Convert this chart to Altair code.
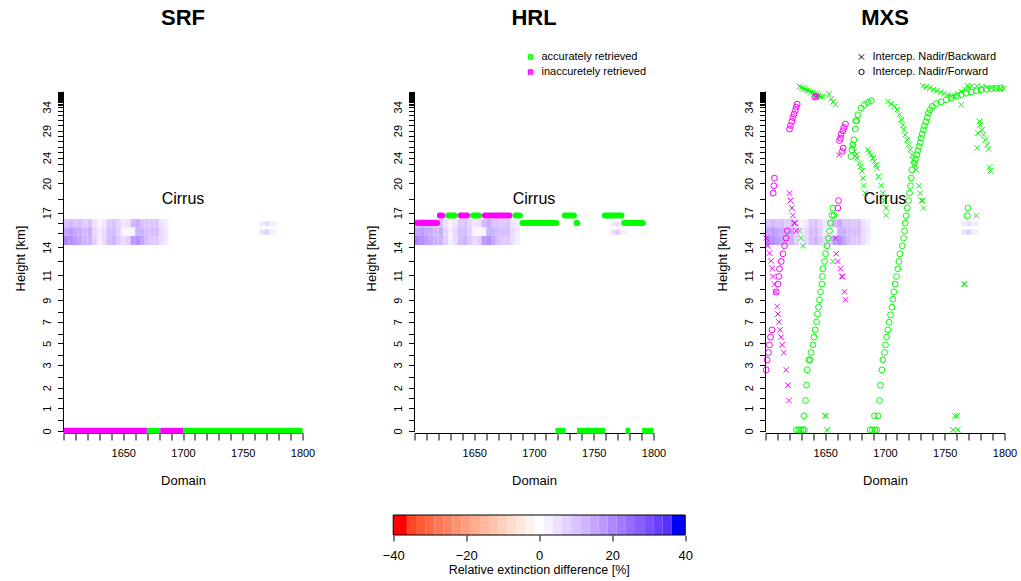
import altair as alt
import pandas as pd

FONT = "Liberation Sans"
GREEN = "#00FF00"
MAGENTA = "#FF00FF"
X_SHAPE = "M-1,-1L1,1M1,-1L-1,1"

# ---------------- axis content ----------------
x_ticks = [1600, 1610, 1620, 1630, 1640, 1650, 1660, 1670, 1680, 1690, 1700,
           1710, 1720, 1730, 1740, 1750, 1760, 1770, 1780, 1790, 1800]
x_labels = [1650, 1700, 1750, 1800]
y_label_pos = [0, 2.1, 4.0, 6.1, 8.1, 10.1, 12.1, 14.4, 17.0, 20.2, 22.9, 25.3, 27.8, 30.0]
y_label_txt = ["0", "1", "2", "3", "5", "7", "9", "11", "14", "17", "20", "24", "29", "34"]
y_minor = [1.0, 3.0, 5.0, 7.0, 9.0, 11.0, 13.1, 15.7, 18.3, 19.2, 21.5, 24.1, 24.7, 25.8, 26.3,
           26.8, 27.3, 28.3, 28.8, 29.2, 29.6, 30.2, 30.3, 30.4, 30.5, 30.6, 30.7, 30.8, 30.9,
           31.0, 31.1, 31.2, 31.3, 31.4]
y_axis_top = 31.4

XDOM = [1600, 1800]
YDOM = [-0.2, 32.2]
PW, PH = 239, 350

# ---------------- cirrus extinction difference field (%) ----------------
cirrus_x0 = [1600, 1604, 1608, 1612, 1616, 1620, 1624, 1628, 1632, 1636, 1640,
             1644, 1648, 1652, 1656, 1660, 1664, 1668, 1672, 1676, 1680, 1684]
cirrus_top = [10, 12, 10, 11, 8, 10, 5, 2, 4, 9, 10, 7, 4, 5, 12, 14, 10, 10, 9, 10, 5, 3]
cirrus_mid = [15, 17, 15, 14, 12, 14, 7, 3, 6, 11, 11, 8, 2, 1, 2, 13, 13, 11, 11, 11, 6, 4]
cirrus_bot = [21, 19, 17, 15, 13, 13, 8, 3, 6, 11, 13, 9, 6, 8, 17, 19, 15, 11, 9, 9, 6, 3]
patch_x0 = [1764, 1768, 1772]
patch_top = [4, 6, 3]
patch_mid = [5, 8, 3]
row_edges = [17.2, 18.05, 18.85, 19.6]

# ---------------- SRF / HRL retrieval flags ----------------
srf_seg = [("m", 1600, 1669.8), ("g", 1669.8, 1681), ("m", 1681, 1700), ("g", 1700, 1800)]
hrl_upper = [("m", 1621.2, 1623.2), ("g", 1628.2, 1633.5), ("m", 1638.5, 1644.1),
             ("g", 1649.1, 1653.9), ("m", 1658.9, 1679.5), ("g", 1684.5, 1688.2),
             ("g", 1725.8, 1733.4), ("g", 1759.3, 1773.2)]
hrl_lower = [("m", 1602.5, 1619.0), ("g", 1690.4, 1718.5), ("g", 1735.5, 1736.2),
             ("g", 1775.5, 1791.1)]
hrl_ground = [("g", 1718, 1726.5), ("g", 1736, 1759.6), ("g", 1776.6, 1780.5), ("g", 1790.5, 1800)]
level_upper, level_lower = 19.94, 19.23

# ---------------- MXS interception points ----------------
mag_fwd_x = [1600.6, 1601.4, 1602.5, 1603.3, 1604.2, 1605.4,
             1609.0, 1610.4, 1611.2, 1611.7, 1613.1, 1614.6, 1615.9, 1617.3, 1618.2,
             1606.4, 1607.0, 1607.5,
             1620.1, 1620.9, 1622.1, 1622.9, 1623.8, 1624.9, 1625.7, 1626.5,
             1641.2, 1642.6,
             1661.9, 1662.8, 1663.3, 1664.8, 1665.6, 1666.9, 1665.0, 1664.2,
             1660.6, 1661.1]
mag_fwd_y = [5.65, 6.57, 7.25, 7.96, 8.68, 9.35,
             12.87, 13.58, 14.29, 15.0, 15.68, 16.39, 17.13, 17.84, 18.52,
             22.01, 22.69, 23.4,
             27.94, 28.27, 28.64, 29.01, 29.32, 29.66, 29.97, 30.25,
             30.9, 30.95,
             26.88, 27.1, 27.47, 27.78, 28.08, 28.4, 26.18, 25.86,
             20.62, 21.32]
mag_bwd_x = [1600.6, 1602.0, 1603.3, 1604.8, 1605.6, 1606.2, 1607.5, 1608.4, 1609.8, 1610.4,
             1611.2, 1612.3, 1613.1, 1614.0, 1615.4, 1617.3, 1618.7, 1619.6,
             1620.1, 1620.9, 1622.1, 1622.9, 1624.0, 1624.6, 1625.7,
             1658.6, 1659.2, 1660.6, 1662.8, 1663.9, 1664.5, 1666.1, 1666.9,
             1661.6, 1642.2]
mag_bwd_y = [17.84, 17.13, 16.45, 15.74, 15.03, 14.29, 13.58, 12.87, 11.51, 10.81,
             10.09, 9.35, 8.68, 7.96, 7.25, 5.65, 4.23, 2.81,
             22.01, 21.32, 20.62, 19.94, 19.23, 19.23, 18.52,
             17.84, 16.39, 15.68, 15.0, 14.29, 14.29, 12.87, 12.13,
             25.56, 30.9]
grn_fwd_x = [1626.0, 1627.8, 1629.6, 1631.4, 1632.6,
             1632.1, 1633.5, 1634.3, 1634.9, 1636.2, 1637.5, 1638.2, 1639.7, 1640.5, 1641.6,
             1642.7, 1643.5, 1644.4, 1645.2, 1646.0, 1647.2, 1647.6, 1648.0, 1649.4, 1650.2,
             1651.4, 1652.7, 1653.6, 1654.4, 1655.6, 1657.5, 1656.4,
             1671.7, 1672.3, 1673.1, 1674.0, 1675.1, 1675.5, 1676.3, 1677.3, 1680.1, 1682.8,
             1685.7, 1688.5,
             1687.5, 1689.5, 1691.5, 1693.0, 1691.2, 1694.1, 1695.4, 1696.2, 1697.4, 1698.2,
             1699.6, 1700.4, 1701.3, 1702.4, 1703.5, 1704.6, 1705.8, 1706.6, 1707.4, 1708.5,
             1709.6, 1710.8, 1711.6, 1712.5, 1714.4, 1715.5, 1716.3, 1716.9, 1717.7, 1718.6,
             1719.7, 1720.5, 1721.3, 1721.9, 1722.5,
             1724.7, 1725.5, 1726.7, 1727.5, 1728.4, 1729.5, 1730.3, 1731.1, 1732.2, 1733.0,
             1734.2, 1735.3, 1736.4, 1737.8, 1739.5,
             1742.9, 1747.0, 1751.2, 1755.4, 1759.6, 1763.8, 1768.0, 1772.2, 1776.3, 1780.5,
             1784.7, 1788.9, 1793.1, 1797.2,
             1769.4, 1768.8]
grn_fwd_y = [0.09, 0.09, 0.09, 0.09, 0.09,
             1.39, 2.81, 4.23, 5.65, 6.57, 6.57, 7.25, 7.96, 8.68, 9.35,
             10.09, 10.81, 11.45, 12.13, 12.87, 13.58, 14.29, 15.0, 15.68, 16.39,
             17.13, 17.84, 18.52, 19.23, 19.94, 19.94, 20.62,
             25.4, 26.02, 26.48, 26.94, 27.94, 28.7, 28.7, 29.26, 29.88, 30.19,
             30.4, 30.56,
             0.09, 0.09, 0.09, 0.09, 1.39, 1.39, 2.81, 4.23, 5.65, 6.57,
             7.25, 7.96, 8.68, 9.35, 10.06, 10.74, 11.45, 12.19, 12.87, 13.58,
             14.29, 15.0, 15.68, 16.39, 17.13, 17.84, 18.52, 19.23, 19.91, 20.62,
             21.32, 22.01, 22.69, 23.4, 24.17,
             24.79, 25.16, 25.56, 25.95, 26.32, 26.69, 27.1, 27.47, 27.87, 28.24,
             28.61, 29.01, 29.42, 29.72, 30.03,
             30.28, 30.46, 30.65, 30.83, 30.97, 31.11, 31.25, 31.39, 31.48, 31.57,
             31.62, 31.67, 31.71, 31.76,
             20.62, 19.91]
grn_bwd_x = [1628.4, 1630.0, 1631.6, 1633.2, 1634.8, 1636.4, 1638.0, 1639.6, 1641.2, 1642.8,
             1644.4, 1646.0, 1647.6,
             1653.1, 1655.0, 1656.6, 1658.6,
             1628.4, 1629.9, 1631.3, 1656.4,
             1673.1, 1674.5, 1675.9, 1676.7, 1678.7, 1679.5, 1680.7, 1681.5, 1682.3, 1683.4,
             1685.7, 1687.0, 1688.5, 1689.9, 1691.2, 1692.6, 1693.5, 1694.6, 1696.8, 1698.2,
             1699.6, 1701.0, 1701.0,
             1702.4, 1705.2, 1707.9, 1710.2, 1712.1, 1713.6, 1715.0, 1715.8, 1716.9, 1718.6,
             1719.7, 1721.3, 1722.5, 1723.3, 1724.7, 1726.1,
             1728.4, 1729.5, 1730.5, 1731.5, 1732.2,
             1731.7, 1734.5, 1737.5, 1740.5, 1743.5, 1746.5, 1749.5, 1752.5, 1755.5,
             1758.0, 1761.0, 1764.0, 1767.0, 1770.0,
             1769.0, 1773.0, 1777.0, 1781.0, 1785.0, 1789.0, 1793.0, 1797.0, 1799.5,
             1763.8,
             1779.1, 1779.7, 1781.3, 1782.4, 1783.9, 1785.5, 1786.6, 1777.7, 1777.2, 1787.4, 1788.3,
             1776.5,
             1765.9, 1767.1, 1758.5, 1760.5, 1756.8, 1761.0,
             1649.5, 1650.8, 1651.6]
grn_bwd_y = [31.88, 31.8, 31.72, 31.63, 31.55, 31.47, 31.38, 31.3, 31.21, 31.13,
             31.05, 30.98, 30.93,
             31.2, 30.74, 30.46, 30.19,
             18.52, 17.84, 17.13, 15.68,
             26.32, 25.86, 25.56, 25.25, 24.79, 24.48, 24.07, 23.4, 22.71, 22.01,
             26.02, 25.74, 25.51, 25.25, 24.94, 24.63, 24.32, 23.55, 22.71, 22.01,
             21.32, 20.62, 19.94,
             30.49, 30.28, 30.03, 29.72, 29.26, 28.8, 28.33, 27.87, 27.41, 26.94,
             26.48, 26.02, 25.56, 25.09, 24.63, 24.17,
             22.69, 22.01, 21.32, 21.32, 20.62,
             31.94, 31.85, 31.72, 31.6, 31.48, 31.35, 31.22, 31.1, 30.98,
             31.0, 31.2, 31.4, 31.6, 31.75,
             31.95, 31.95, 31.9, 31.85, 31.8, 31.75, 31.7, 31.7, 31.7,
             30.19,
             28.64, 28.33, 27.87, 27.41, 26.94, 26.48, 26.08, 27.56, 26.18, 24.42, 24.1,
             19.91,
             13.58, 13.58, 1.39, 1.39, 0.09, 0.09,
             1.39, 1.39, 0.09]

# ---------------- colour bar ----------------
cb_lo = [-40, -36.25, -33.75, -31.25, -28.75, -26.25, -23.75, -21.25, -18.75, -16.25, -13.75,
         -11.25, -8.75, -6.25, -3.75, -1.25, 1.25, 3.75, 6.25, 8.75, 11.25, 13.75, 16.25,
         18.75, 21.25, 23.75, 26.25, 28.75, 31.25, 33.75, 36.25]
cb_hi = cb_lo[1:] + [40]
cb_val = [-40, -35, -32.5, -30, -27.5, -25, -22.5, -20, -17.5, -15, -12.5, -10, -7.5, -5,
          -2.5, 0, 2.5, 5, 7.5, 10, 12.5, 15, 17.5, 20, 22.5, 25, 27.5, 30, 32.5, 35, 40]
cb_ticks = [-40, -20, 0, 20, 40]

COLOR_SCALE = alt.Scale(domain=[-40, 0, 40], range=["#FF0000", "#FFFFFF", "#0000FF"],
                        interpolate="lab")

# ---------------- helpers ----------------
x_label_expr = "indexof(" + str(x_labels) + ", datum.value) >= 0 ? datum.label : ''"
y_label_expr = " : ".join(
    f"abs(datum.value - {p}) < 0.001 ? '{t}'" for p, t in zip(y_label_pos, y_label_txt)
) + " : ''"
y_values = sorted(set(y_label_pos + y_minor))


def X(field):
    return alt.X(field, type="quantitative",
                 scale=alt.Scale(domain=XDOM, nice=False, zero=False),
                 axis=alt.Axis(values=x_ticks, labelExpr=x_label_expr, title="Domain", format="d",
                               grid=False, domain=True, domainColor="black", tickColor="black",
                               tickSize=7, labelFont=FONT, labelFontSize=11, labelColor="black",
                               titleFont=FONT, titleFontSize=13, titleFontWeight="normal",
                               titleColor="black", labelPadding=7, titlePadding=16,
                               labelFlush=False, labelOverlap=False))


def Y(field):
    return alt.Y(field, type="quantitative",
                 scale=alt.Scale(domain=YDOM, nice=False, zero=False),
                 axis=alt.Axis(values=y_values, labelExpr=y_label_expr, title="Height [km]",
                               grid=False, domain=False, tickColor="black", tickSize=6,
                               labelAngle=270, labelAlign="center", labelBaseline="bottom",
                               labelFont=FONT, labelFontSize=11, labelColor="black",
                               titleFont=FONT, titleFontSize=13, titleFontWeight="normal",
                               titleColor="black", labelPadding=5, titlePadding=14,
                               labelFlush=False, labelOverlap=False))


def cirrus_df():
    rows = []
    for vals, r in ((cirrus_bot, 0), (cirrus_mid, 1), (cirrus_top, 2)):
        for x0, v in zip(cirrus_x0, vals):
            rows.append(dict(x0=x0, x1=x0 + 4, y0=row_edges[r], y1=row_edges[r + 1], v=v))
    for vals, r in ((patch_mid, 1), (patch_top, 2)):
        for i, (x0, v) in enumerate(zip(patch_x0, vals)):
            x1 = patch_x0[i + 1] if i + 1 < len(patch_x0) else 1778
            rows.append(dict(x0=x0, x1=x1, y0=row_edges[r] + 0.1, y1=row_edges[r + 1] - 0.2, v=v))
    return pd.DataFrame(rows)


def base_layers():
    heat = alt.Chart(cirrus_df()).mark_rect().encode(
        x=X("x0"), x2="x1", y=Y("y0"), y2="y1",
        color=alt.Color("v:Q", scale=COLOR_SCALE, legend=None))
    yline = alt.Chart(pd.DataFrame({"x": [1600], "y": [0], "y2": [y_axis_top]})).mark_rule(
        color="black", strokeWidth=1).encode(x=X("x"), y=Y("y"), y2="y2")
    return heat, yline


def cirrus_text():
    return alt.Chart(pd.DataFrame({"x": [1700], "y": [21.5], "t": ["Cirrus"]})).mark_text(
        font=FONT, fontSize=16, color="black", baseline="middle").encode(
        x=X("x"), y=Y("y"), text="t:N")


def seg_df(segs, level):
    return pd.DataFrame([dict(c=GREEN if c == "g" else MAGENTA, x=a, x2=b, y=level)
                         for c, a, b in segs])


def seg_layer(segs, level, cap, width=6):
    return alt.Chart(seg_df(segs, level)).mark_rule(strokeWidth=width, strokeCap=cap).encode(
        x=X("x"), x2="x2", y=Y("y"), color=alt.Color("c:N", scale=None, legend=None))


dummy = pd.DataFrame({"d": [0]})


def title_mark(t):
    return alt.Chart(dummy).mark_text(text=t, font=FONT, fontSize=22, fontWeight="bold",
                                      color="black", align="center", baseline="middle").encode(
        x=alt.value(PW / 2), y=alt.value(-65))


def legend_item(px, py, kind, color, text):
    layers = []
    if kind == "square":
        layers.append(alt.Chart(dummy).mark_point(shape="square", filled=True, size=30,
                                                  color=color, opacity=1).encode(
            x=alt.value(px), y=alt.value(py)))
        layers.append(alt.Chart(dummy).mark_point(shape=X_SHAPE, size=18, color="white",
                                                  strokeWidth=0.7, opacity=0.6).encode(
            x=alt.value(px), y=alt.value(py)))
    else:
        shape = "circle" if kind == "circle" else X_SHAPE
        layers.append(alt.Chart(dummy).mark_point(shape=shape, filled=False, size=28,
                                                  color="black", strokeWidth=1,
                                                  opacity=1).encode(
            x=alt.value(px), y=alt.value(py)))
    layers.append(alt.Chart(dummy).mark_text(text=text, font=FONT, fontSize=11, color="black",
                                             align="left", baseline="middle").encode(
        x=alt.value(px + 11), y=alt.value(py)))
    return layers


def pts(xs, ys, shape, color):
    df = pd.DataFrame({"x": xs, "y": ys})
    return alt.Chart(df).mark_point(shape=shape, filled=False, size=30 if shape != "circle" else 34,
                                    strokeWidth=1, color=color, opacity=1).encode(
        x=X("x"), y=Y("y"))


# ---------------- panels ----------------
heat, yline = base_layers()
srf = alt.layer(heat, seg_layer(srf_seg, 0, "butt", 6), cirrus_text(), yline,
                title_mark("SRF")).properties(width=PW, height=PH)

heat, yline = base_layers()
hrl = alt.layer(
    heat,
    seg_layer(hrl_upper, level_upper, "round"),
    seg_layer(hrl_lower, level_lower, "round"),
    seg_layer(hrl_ground, 0, "butt"),
    cirrus_text(), yline, title_mark("HRL"),
    *legend_item(116, -26, "square", GREEN, "accurately retrieved"),
    *legend_item(116, -11, "square", MAGENTA, "inaccuretely retrieved"),
).properties(width=PW, height=PH)

heat, yline = base_layers()
mxs = alt.layer(
    heat,
    pts(grn_fwd_x, grn_fwd_y, "circle", GREEN),
    pts(grn_bwd_x, grn_bwd_y, X_SHAPE, GREEN),
    pts(mag_fwd_x, mag_fwd_y, "circle", MAGENTA),
    pts(mag_bwd_x, mag_bwd_y, X_SHAPE, MAGENTA),
    cirrus_text(), yline, title_mark("MXS"),
    *legend_item(96, -26, "x", "black", "Intercep. Nadir/Backward"),
    *legend_item(96, -11, "circle", "black", "Intercep. Nadir/Forward"),
).properties(width=PW, height=PH)

# ---------------- colour bar ----------------
cb_df = pd.DataFrame({"lo": cb_lo, "hi": cb_hi, "v": cb_val})
CBX = alt.Scale(domain=[-130.33, 55.97], nice=False, zero=False)
cb_rects = alt.Chart(cb_df).mark_rect().encode(
    x=alt.X("lo:Q", scale=CBX,
            axis=alt.Axis(values=cb_ticks, domain=False, grid=False, tickColor="black",
                          tickSize=6, labelFont=FONT, labelFontSize=13, labelColor="black",
                          labelPadding=8, title=None, labelFlush=False)),
    x2="hi", y=alt.value(0), y2=alt.value(20),
    color=alt.Color("v:Q", scale=COLOR_SCALE, legend=None))
cb_border = alt.Chart(pd.DataFrame({"lo": [-40], "hi": [40]})).mark_rect(
    fillOpacity=0, stroke="black", strokeWidth=1).encode(
    x=alt.X("lo:Q", scale=CBX), x2="hi", y=alt.value(0), y2=alt.value(20))
cb_title = alt.Chart(pd.DataFrame({"x": [0], "t": ["Relative extinction difference [%]"]})).mark_text(
    font=FONT, fontSize=12.5, color="black", baseline="middle").encode(
    x=alt.X("x:Q", scale=CBX), y=alt.value(55), text="t:N")
colorbar = alt.layer(cb_rects, cb_border, cb_title).properties(width=680, height=20)

chart = alt.vconcat(
    alt.hconcat(srf, hrl, mxs, spacing=49),
    colorbar, spacing=27,
).properties(
    padding={"left": 13.5, "top": 7, "right": 0, "bottom": 0},
    background="white",
).configure_view(stroke=None)

chart.save("out.html", embed_options={"renderer": "svg", "actions": False})
